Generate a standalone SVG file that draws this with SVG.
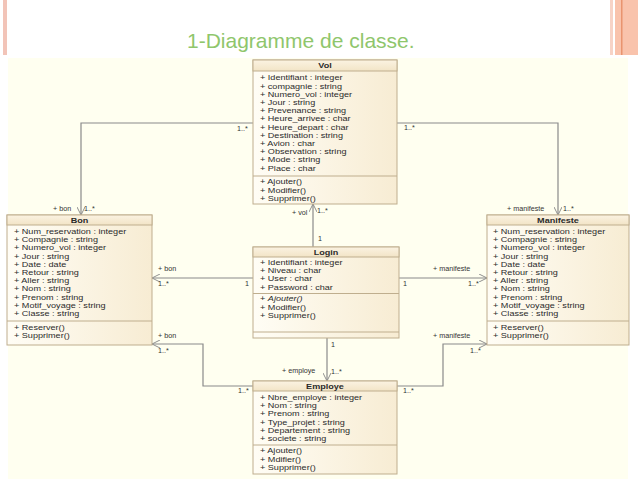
<svg xmlns="http://www.w3.org/2000/svg" width="638" height="479" viewBox="0 0 638 479">
<defs>
<linearGradient id="boxg" x1="0" y1="0" x2="1" y2="0">
<stop offset="0" stop-color="#fffdf5"/>
<stop offset="1" stop-color="#f7ecd3"/>
</linearGradient>
<linearGradient id="headg" x1="0" y1="0" x2="0" y2="1">
<stop offset="0" stop-color="#fbf3e2"/>
<stop offset="1" stop-color="#f2e4c6"/>
</linearGradient>
<marker id="arr" viewBox="0 0 10 10" refX="10" refY="5" markerWidth="8" markerHeight="8" orient="auto" markerUnits="userSpaceOnUse">
<path d="M0,0 L10,5 L0,10" fill="none" stroke="#8a8a8a" stroke-width="1.2"/>
</marker>
</defs>
<style>
.box{fill:url(#boxg);stroke:#bfae8e;stroke-width:1}
.head{fill:url(#headg);stroke:#bfae8e;stroke-width:1}
.sep{stroke:#bfae8e;stroke-width:1}
.t{font-family:"Liberation Sans",Arial,sans-serif;font-size:7.1px;fill:#2a2a2a}
.h{font-family:"Liberation Sans",Arial,sans-serif;font-size:7.1px;font-weight:bold;fill:#2a2a2a;text-anchor:middle}
.lbl{font-family:"Liberation Sans",Arial,sans-serif;font-size:7.2px;fill:#333}
.con{fill:none;stroke:#8a8a8a;stroke-width:1.2}
</style>
<rect x="0" y="0" width="638" height="479" fill="#ffffff"/>
<rect x="8" y="58" width="620" height="421" fill="#fffff0"/>
<rect x="3" y="0" width="4" height="55" fill="#f2c4b8"/>
<rect x="610" y="0" width="3" height="55" fill="#f7d3c6"/>
<rect x="615" y="0" width="23" height="55" fill="#f9c3ac"/>
<rect x="621" y="0" width="1.5" height="55" fill="#e9946f"/>
<text x="187" y="48" font-family="'Liberation Sans',Arial,sans-serif" font-size="21" fill="#8fc66c">1-Diagramme de classe.</text>

<g id="connectors">
<polyline class="con" points="253,123 81,123 81,215" marker-end="url(#arr)"/>
<polyline class="con" points="397,123 558,123 558,215" marker-end="url(#arr)"/>
<line class="con" x1="313" y1="247" x2="313" y2="204" marker-end="url(#arr)"/>
<line class="con" x1="253" y1="278" x2="152" y2="278" marker-end="url(#arr)"/>
<line class="con" x1="399" y1="278" x2="487" y2="278" marker-end="url(#arr)"/>
<line class="con" x1="327" y1="338" x2="327" y2="381" marker-end="url(#arr)"/>
<polyline class="con" points="253,386 203,386 203,344 152,344" marker-end="url(#arr)"/>
<polyline class="con" points="397,386 443,386 443,344 487,344" marker-end="url(#arr)"/>
<text class="lbl" x="237" y="131">1..*</text>
<text class="lbl" x="53" y="211">+ bon</text>
<text class="lbl" x="84" y="211">1..*</text>
<text class="lbl" x="404" y="130">1..*</text>
<text class="lbl" x="507" y="211">+ manifeste</text>
<text class="lbl" x="563" y="211">1..*</text>
<text class="lbl" x="292" y="215">+ vol</text>
<text class="lbl" x="317" y="213">1..*</text>
<text class="lbl" x="318" y="241">1</text>
<text class="lbl" x="158" y="271">+ bon</text>
<text class="lbl" x="158" y="286">1..*</text>
<text class="lbl" x="245" y="286">1</text>
<text class="lbl" x="403" y="286">1</text>
<text class="lbl" x="433" y="271">+ manifeste</text>
<text class="lbl" x="468" y="286">1..*</text>
<text class="lbl" x="331" y="347">1</text>
<text class="lbl" x="282" y="373">+ employe</text>
<text class="lbl" x="331" y="374">1..*</text>
<text class="lbl" x="158" y="338">+ bon</text>
<text class="lbl" x="158" y="353">1..*</text>
<text class="lbl" x="238" y="393">1..*</text>
<text class="lbl" x="433" y="338">+ manifeste</text>
<text class="lbl" x="470" y="353">1..*</text>
<text class="lbl" x="403" y="393">1..*</text>
</g>

<g id="Vol">
<rect class="box" x="253" y="60" width="144" height="144"/>
<rect class="head" x="253" y="60" width="144" height="11"/>
<g transform="translate(325,0) scale(1.28,1)"><text class="h" x="0" y="68.5">Vol</text></g>
<g transform="translate(260,0) scale(1.28,1)">
<text class="t" x="0" y="80.5">+ Identifiant : integer</text>
<text class="t" x="0" y="88.7">+ compagnie : string</text>
<text class="t" x="0" y="96.9">+ Numero_vol : integer</text>
<text class="t" x="0" y="105.1">+ Jour : string</text>
<text class="t" x="0" y="113.3">+ Prevenance : string</text>
<text class="t" x="0" y="121.5">+ Heure_arrivee : char</text>
<text class="t" x="0" y="129.7">+ Heure_depart : char</text>
<text class="t" x="0" y="137.9">+ Destination : string</text>
<text class="t" x="0" y="146.1">+ Avion : char</text>
<text class="t" x="0" y="154.3">+ Observation : string</text>
<text class="t" x="0" y="162.5">+ Mode : string</text>
<text class="t" x="0" y="170.7">+ Place : char</text>
<text class="t" x="0" y="184.5">+ Ajouter()</text>
<text class="t" x="0" y="192.7">+ Modifier()</text>
<text class="t" x="0" y="200.9">+ Supprimer()</text>
</g>
<line class="sep" x1="253" y1="176" x2="397" y2="176"/>
</g>

<g id="Bon">
<rect class="box" x="7" y="215" width="145" height="130"/>
<rect class="head" x="7" y="215" width="145" height="10"/>
<g transform="translate(79.5,0) scale(1.28,1)"><text class="h" x="0" y="223">Bon</text></g>
<g transform="translate(14,0) scale(1.28,1)">
<text class="t" x="0" y="234">+ Num_reservation : integer</text>
<text class="t" x="0" y="242.2">+ Compagnie : string</text>
<text class="t" x="0" y="250.4">+ Numero_vol : integer</text>
<text class="t" x="0" y="258.6">+ Jour : string</text>
<text class="t" x="0" y="266.8">+ Date : date</text>
<text class="t" x="0" y="275">+ Retour : string</text>
<text class="t" x="0" y="283.2">+ Aller : string</text>
<text class="t" x="0" y="291.4">+ Nom : string</text>
<text class="t" x="0" y="299.6">+ Prenom : string</text>
<text class="t" x="0" y="307.8">+ Motif_voyage : string</text>
<text class="t" x="0" y="316">+ Classe : string</text>
<text class="t" x="0" y="330">+ Reserver()</text>
<text class="t" x="0" y="338.2">+ Supprimer()</text>
</g>
<line class="sep" x1="7" y1="321" x2="152" y2="321"/>
</g>

<g id="Manifeste">
<rect class="box" x="487" y="215" width="142" height="130"/>
<rect class="head" x="487" y="215" width="142" height="10"/>
<g transform="translate(558,0) scale(1.28,1)"><text class="h" x="0" y="223">Manifeste</text></g>
<g transform="translate(493,0) scale(1.28,1)">
<text class="t" x="0" y="234">+ Num_reservation : integer</text>
<text class="t" x="0" y="242.2">+ Compagnie : string</text>
<text class="t" x="0" y="250.4">+ Numero_vol : integer</text>
<text class="t" x="0" y="258.6">+ Jour : string</text>
<text class="t" x="0" y="266.8">+ Date : date</text>
<text class="t" x="0" y="275">+ Retour : string</text>
<text class="t" x="0" y="283.2">+ Aller : string</text>
<text class="t" x="0" y="291.4">+ Nom : string</text>
<text class="t" x="0" y="299.6">+ Prenom : string</text>
<text class="t" x="0" y="307.8">+ Motif_voyage : string</text>
<text class="t" x="0" y="316">+ Classe : string</text>
<text class="t" x="0" y="330">+ Reserver()</text>
<text class="t" x="0" y="338.2">+ Supprimer()</text>
</g>
<line class="sep" x1="487" y1="321" x2="629" y2="321"/>
</g>

<g id="Login">
<rect class="box" x="253" y="247" width="146" height="91"/>
<rect class="head" x="253" y="247" width="146" height="10"/>
<g transform="translate(326,0) scale(1.28,1)"><text class="h" x="0" y="255">Login</text></g>
<g transform="translate(260,0) scale(1.28,1)">
<text class="t" x="0" y="265">+ Identifiant : integer</text>
<text class="t" x="0" y="273.2">+ Niveau : char</text>
<text class="t" x="0" y="281.4">+ User : char</text>
<text class="t" x="0" y="289.6">+ Password : char</text>
<text class="t" x="0" y="301.5">+ <tspan font-style="italic">Ajouter()</tspan></text>
<text class="t" x="0" y="309.7">+ Modifier()</text>
<text class="t" x="0" y="317.9">+ Supprimer()</text>
</g>
<line class="sep" x1="253" y1="293.5" x2="399" y2="293.5"/>
<line class="sep" x1="253" y1="332" x2="399" y2="332"/>
</g>

<g id="Employe">
<rect class="box" x="253" y="381" width="144" height="93"/>
<rect class="head" x="253" y="381" width="144" height="10"/>
<g transform="translate(325,0) scale(1.28,1)"><text class="h" x="0" y="389">Employe</text></g>
<g transform="translate(260,0) scale(1.28,1)">
<text class="t" x="0" y="400">+ Nbre_employe : integer</text>
<text class="t" x="0" y="408.2">+ Nom : string</text>
<text class="t" x="0" y="416.4">+ Prenom : string</text>
<text class="t" x="0" y="424.6">+ Type_projet : string</text>
<text class="t" x="0" y="432.8">+ Departement : string</text>
<text class="t" x="0" y="441">+ societe : string</text>
<text class="t" x="0" y="453.5">+ Ajouter()</text>
<text class="t" x="0" y="461.7">+ Mdifier()</text>
<text class="t" x="0" y="469.9">+ Supprimer()</text>
</g>
<line class="sep" x1="253" y1="445" x2="397" y2="445"/>
</g>
</svg>
